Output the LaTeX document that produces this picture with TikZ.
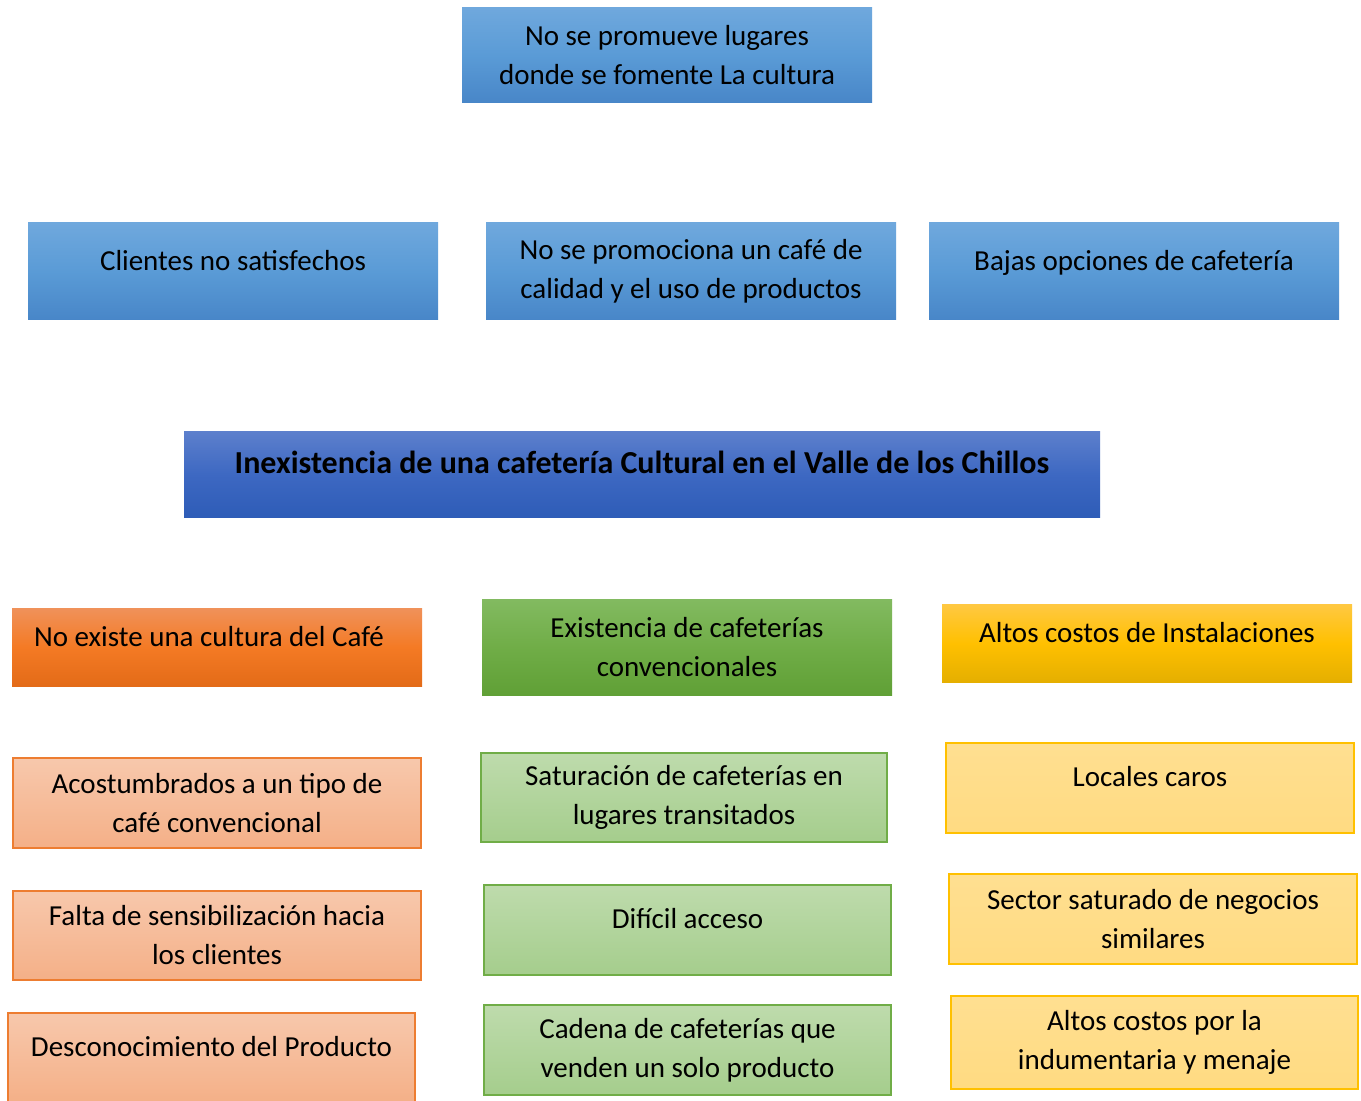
\documentclass[tikz,border=0pt]{standalone}
\usepackage{fontspec}
\setmainfont{Carlito}
\usepackage{tikz}
\usepackage{xcolor}
\usetikzlibrary{positioning}
\definecolor{bluetop}{HTML}{6FA8DD}
\definecolor{bluemid}{HTML}{5A9BD6}
\definecolor{bluebot}{HTML}{4886C8}
\definecolor{maintop}{HTML}{5C7FCC}
\definecolor{mainmid}{HTML}{3D68C2}
\definecolor{mainbot}{HTML}{2E5CB7}
\definecolor{oratop}{HTML}{F09159}
\definecolor{oramid}{HTML}{F47A24}
\definecolor{orabot}{HTML}{E36B18}
\definecolor{grntop}{HTML}{82BA60}
\definecolor{grnmid}{HTML}{70AD47}
\definecolor{grnbot}{HTML}{60A036}
\definecolor{yeltop}{HTML}{FFC841}
\definecolor{yelmid}{HTML}{FFC000}
\definecolor{yelbot}{HTML}{E5AF00}
\definecolor{oraline}{HTML}{ED7D31}
\definecolor{grnline}{HTML}{70AD47}
\definecolor{yelline}{HTML}{FFC000}

\begin{document}
\begin{tikzpicture}[x=0.5pt,y=-0.5pt,
  every node/.style={font=\fontsize{14.5}{19.5}\selectfont,align=center,inner sep=0pt,minimum width=205pt},
  one/.style={text height=10.5pt,text depth=11.7pt},
  blue/.style={top color=bluetop,bottom color=bluebot,middle color=bluemid},
  orange/.style={top color=oratop,bottom color=orabot,middle color=oramid},
  green/.style={top color=grntop,bottom color=grnbot,middle color=grnmid},
  yellow/.style={top color=yeltop,bottom color=yelbot,middle color=yelmid},
  lorange/.style={draw=oraline,line width=1pt,top color=oratop!50!white,bottom color=oratop!72!white},
  lgreen/.style={draw=grnline,line width=1pt,top color=grntop!52!white,bottom color=grntop!72!white},
  lyellow/.style={draw=yelline,line width=1pt,top color=yeltop!58!white,bottom color=yeltop!66!white}]
\clip (0,0) rectangle (1361,1101);
\fill[white] (0,0) rectangle (1361,1101);
% effects
\node[blue,minimum height=47.5pt] (efftop) at (667,55.5) {No se promueve lugares\\donde se fomente La cultura};
\node[blue,one,minimum height=48.5pt] (eff1) at (233,271.5) {Clientes no satisfechos};
\node[blue,minimum height=48.5pt] (eff2) at (691,271.5) {No se promociona un café de\\calidad y el uso de productos};
\node[blue,one,minimum height=48.5pt] (eff3) at (1134,271.5) {Bajas opciones de cafetería};
% problem
\node[top color=maintop,bottom color=mainbot,middle color=mainmid,one,minimum width=458pt,minimum height=43pt,font=\fontsize{16}{19.5}\selectfont\bfseries] (problem) at (642,475) {Inexistencia de una cafetería Cultural en el Valle de los Chillos};
% causes
\node[orange,one,minimum height=38.5pt] (cafe) at (217,647.5) {No existe una cultura del Café\hspace{8pt}};
\node[green,minimum height=47.5pt] (conv) at (687,647.5) {Existencia de cafeterías\\convencionales};
\node[yellow,one,minimum height=38.5pt] (inst) at (1147,643.5) {Altos costos de Instalaciones};
\node[lorange,minimum width=204pt,minimum height=45pt] (cafe1) at (217,803) {Acostumbrados a un tipo de\\café convencional};
\node[lorange,minimum width=204pt,minimum height=44.5pt] (cafe2) at (217,935.5) {Falta de sensibilización hacia\\los clientes};
\node[lorange,one,minimum width=203.5pt,minimum height=44.5pt] (cafe3) at (211.5,1057.5) {Desconocimiento del Producto};
\node[lgreen,minimum width=203pt,minimum height=44.5pt] (conv1) at (684,797.5) {Saturación de cafeterías en\\lugares transitados};
\node[lgreen,one,minimum width=203.5pt,minimum height=45pt] (conv2) at (687.5,930) {Difícil acceso};
\node[lgreen,minimum width=203.5pt,minimum height=45pt] (conv3) at (687.5,1050) {Cadena de cafeterías que\\venden un solo producto};
\node[lyellow,one,minimum width=204pt,minimum height=45pt] (inst1) at (1150,788) {Locales caros};
\node[lyellow,minimum width=204pt,minimum height=45pt] (inst2) at (1153,919) {Sector saturado de negocios\\similares};
\node[lyellow,minimum width=203.5pt,minimum height=46.5pt] (inst3) at (1154.5,1042.5) {Altos costos por la\\indumentaria y menaje};
\end{tikzpicture}
\end{document}
